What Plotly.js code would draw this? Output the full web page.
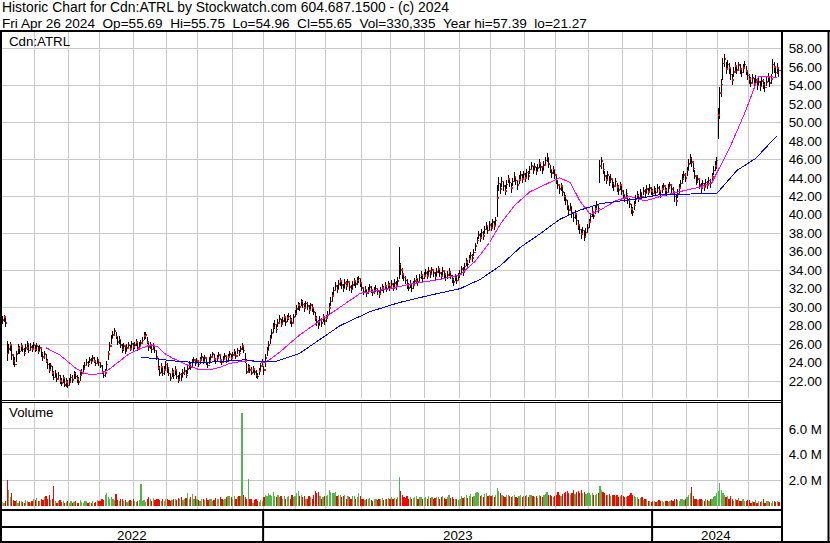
<!DOCTYPE html>
<html>
<head>
<meta charset="utf-8">
<script src="https://cdn.plot.ly/plotly-3.0.1.min.js"></script>
<style>
html,body{margin:0;padding:0;background:#fff}
#chart{width:830px;height:543px}
#chart path.js-line{shape-rendering:crispEdges !important}
#chart .point{shape-rendering:crispEdges !important}
#chart .bars path{shape-rendering:crispEdges !important}
</style>
</head>
<body>
<div id="chart"></div>
<script>
// ---- DATA (daily bars, May 2 2022 .. Apr 26 2024, trading-day index) ----
const monthLengths = [21,22,20,22,21,20,22,20, 21,19,23,19,22,22,20,22,20,21,22,19, 22,20,20,20];
const years = ['2022','2023','2024'];
const monthsPerYear = [8,12,4];

const close = [
28.6,28.9,28.3,25.0,25.5,25.9,24.8,24.2,23.8,24.9,25.6,25.2,25.8,25.4,25.0,25.6,26.0,25.3,25.7,25.5,25.9,
25.4,25.8,25.2,25.6,25.0,24.6,24.9,24.2,23.8,23.2,23.6,22.9,22.4,22.8,22.2,22.6,22.0,21.8,22.3,21.6,21.9,21.5,
21.9,22.4,22.1,22.8,22.5,22.2,21.9,22.6,22.9,23.3,23.7,24.0,23.8,24.3,24.1,24.5,24.2,23.9,24.3,24.0,
23.6,23.0,22.6,22.9,23.8,24.9,25.8,26.6,27.0,27.4,26.8,26.2,26.5,25.9,25.4,25.8,25.2,25.6,25.9,25.5,26.0,25.7,
25.9,26.2,25.6,25.8,26.1,26.4,26.9,27.0,26.2,25.7,25.9,25.4,25.8,25.3,24.6,23.4,22.9,23.5,22.8,23.2,23.8,
23.4,22.8,22.3,23.0,22.6,23.2,22.5,22.1,22.7,22.4,22.9,23.1,22.6,23.3,23.8,23.5,24.0,24.3,23.9,24.2,
23.8,24.3,24.6,24.1,24.5,24.0,23.7,24.2,24.6,24.9,24.4,24.1,24.5,24.8,24.3,24.0,24.4,24.7,24.2,24.6,24.9,24.5,
24.8,25.2,24.7,25.3,25.0,25.5,25.8,25.3,24.2,23.0,23.5,23.2,22.9,23.3,23.0,22.6,22.5,23.1,23.6,24.0,
23.2,24.5,25.3,25.9,26.6,27.2,27.8,28.1,27.6,28.3,28.7,28.2,28.5,28.9,28.4,28.8,29.0,28.6,28.3,28.9,29.3,
29.8,30.2,30.0,30.6,30.3,29.9,30.4,30.1,29.7,30.2,29.9,29.5,28.8,28.4,28.0,28.6,28.3,28.9,28.5,
28.8,29.2,29.9,30.6,31.2,31.8,32.3,31.9,32.5,32.8,32.4,32.0,32.6,32.3,32.7,32.2,31.9,32.4,32.8,32.5,32.9,33.1,32.6,
32.1,31.7,31.9,31.5,31.8,32.2,31.9,31.6,31.8,32.0,31.7,31.4,31.8,32.1,31.9,32.3,32.0,32.4,32.2,
32.5,32.1,32.6,32.3,32.8,34.6,34.0,33.6,33.2,32.9,32.4,32.1,32.5,32.0,32.4,32.8,33.1,32.7,33.2,33.5,33.1,33.4,
33.7,33.4,33.9,33.6,34.0,33.7,33.3,33.8,34.1,33.7,33.4,33.9,33.6,33.2,33.5,33.8,33.4,33.0,32.7,33.2,32.9,33.3,
33.6,34.1,33.8,34.4,34.9,34.6,35.2,35.6,35.3,35.9,36.6,37.2,37.8,37.5,38.1,37.7,38.4,38.8,38.3,38.9,
38.6,39.2,38.8,39.4,41.8,43.4,42.8,43.6,43.1,42.6,43.3,43.9,43.5,42.9,43.6,44.1,43.7,43.2,43.8,44.3,43.9,44.4,
44.0,44.6,44.2,44.9,45.3,44.8,45.2,44.7,45.1,45.6,45.2,44.8,45.4,45.9,46.2,45.5,44.9,44.5,44.9,44.3,
43.7,43.2,42.8,43.1,42.5,42.0,41.6,41.0,40.5,40.9,40.2,39.7,40.1,39.4,38.9,38.4,37.9,38.3,37.6,38.1,38.6,
39.2,39.8,40.3,39.9,40.6,41.0,40.7,45.3,45.8,44.9,44.2,43.8,44.3,43.6,43.9,43.4,43.1,43.6,43.0,42.7,43.2,42.6,
42.2,41.8,42.3,41.6,41.2,40.6,40.3,41.0,41.7,42.1,41.8,42.4,42.0,42.6,42.3,42.8,42.5,42.9,42.6,
42.3,42.7,42.4,42.9,42.6,42.2,42.8,43.1,42.7,42.4,42.9,43.2,42.8,42.5,42.0,41.5,42.3,42.9,43.4,43.9,44.3,44.0,
44.8,45.5,46.1,45.7,45.0,44.2,43.6,43.9,43.2,42.9,43.4,43.0,43.5,43.2,43.7,43.4,44.1,44.8,45.3,45.9,
50.8,53.2,54.1,56.4,56.9,55.8,56.3,55.9,55.2,54.6,55.5,56.1,55.7,56.2,55.8,55.4,55.9,56.3,55.6,55.1,
54.7,54.3,54.8,54.2,54.6,54.0,54.4,53.9,54.5,54.1,53.8,54.4,54.9,54.3,54.7,56.3,56.0,55.4,55.9,55.65
];
const high = [
29.0,29.2,28.9,26.3,26.0,26.2,25.9,24.9,24.6,25.3,26.0,25.8,26.1,25.9,25.6,26.0,26.3,26.0,26.1,25.9,26.2,
25.9,26.1,25.8,25.9,25.6,25.1,25.3,24.9,24.4,23.9,24.0,23.6,23.1,23.2,22.9,23.0,22.7,22.3,22.6,22.4,22.3,22.1,
22.3,22.8,22.7,23.1,23.0,22.7,22.4,23.0,23.3,23.7,24.1,24.4,24.2,24.6,24.5,24.8,24.6,24.3,24.6,24.4,
24.1,23.7,23.1,23.3,24.2,25.3,26.2,27.0,27.4,27.7,27.3,26.8,26.9,26.5,26.0,26.1,25.8,26.0,26.2,25.9,26.3,26.1,
26.2,26.5,26.1,26.2,26.4,26.8,27.3,27.3,26.8,26.3,26.2,25.9,26.1,25.8,25.3,24.5,23.6,23.9,23.5,23.6,24.2,
23.9,23.5,22.9,23.4,23.2,23.6,23.3,22.7,23.0,22.9,23.3,23.5,23.2,23.7,24.2,24.0,24.4,24.6,24.4,24.5,
24.3,24.6,25.0,24.6,24.8,24.5,24.1,24.6,24.9,25.1,24.9,24.5,24.8,25.1,24.8,24.4,24.7,25.0,24.6,24.9,25.2,24.9,
25.1,25.5,25.2,25.6,25.4,25.8,26.1,25.9,25.0,24.0,23.8,23.7,23.5,23.6,23.4,23.2,22.9,23.4,23.9,24.4,
23.6,24.9,25.7,26.3,27.0,27.6,28.3,28.6,28.2,28.7,29.1,28.7,28.9,29.3,28.9,29.2,29.4,29.1,28.8,29.3,29.7,
30.2,30.6,30.5,30.9,30.8,30.4,30.7,30.6,30.2,30.5,30.3,30.0,29.5,29.0,28.6,29.0,28.8,29.3,29.0,
29.2,29.6,30.4,31.1,31.6,32.2,32.7,32.4,32.9,33.2,32.9,32.5,33.0,32.8,33.1,32.7,32.4,32.8,33.2,32.9,33.3,33.4,33.1,
32.6,32.1,32.3,31.9,32.2,32.5,32.3,32.0,32.2,32.4,32.1,31.8,32.2,32.5,32.3,32.7,32.4,32.8,32.6,
32.9,32.6,33.0,32.8,33.3,36.5,34.8,34.2,33.7,33.4,33.0,32.6,32.9,32.5,32.8,33.2,33.5,33.2,33.6,33.9,33.6,33.8,
34.1,33.9,34.3,34.0,34.4,34.1,33.8,34.2,34.5,34.2,33.8,34.3,34.0,33.7,33.9,34.2,33.9,33.5,33.2,33.6,33.4,33.7,
34.0,34.5,34.3,34.8,35.3,35.1,35.6,36.0,35.8,36.3,37.0,37.6,38.2,38.0,38.5,38.2,38.8,39.2,38.8,39.3,
39.1,39.6,39.3,39.8,43.2,44.1,43.5,44.1,43.7,43.2,43.8,44.3,44.0,43.5,44.0,44.6,44.2,43.8,44.3,44.7,44.4,44.8,
44.5,45.0,44.7,45.3,45.7,45.3,45.6,45.2,45.5,46.0,45.7,45.3,45.8,46.3,46.7,46.1,45.4,45.0,45.3,44.9,
44.2,43.8,43.3,43.5,43.0,42.5,42.1,41.6,41.0,41.3,40.8,40.3,40.5,40.0,39.4,38.9,38.5,38.7,38.2,38.6,39.0,
39.6,40.2,40.8,40.4,41.0,41.5,41.2,45.9,46.3,45.6,44.8,44.3,44.7,44.2,44.4,43.9,43.6,44.0,43.5,43.2,43.6,43.1,
42.7,42.3,42.8,42.1,41.8,41.2,40.9,41.5,42.2,42.6,42.3,42.8,42.5,43.0,42.8,43.2,42.9,43.3,43.0,
42.8,43.1,42.9,43.3,43.1,42.7,43.2,43.5,43.2,42.9,43.3,43.6,43.3,43.0,42.6,42.2,42.8,43.3,43.8,44.4,44.7,44.5,
45.2,46.0,46.6,46.3,45.6,44.9,44.2,44.3,43.8,43.4,43.8,43.5,43.9,43.7,44.1,43.9,44.5,45.3,45.8,46.3,
51.6,53.8,54.7,57.0,57.39,56.6,56.8,56.4,56.0,55.3,56.0,56.5,56.2,56.6,56.3,55.9,56.3,56.7,56.1,55.6,
55.2,54.9,55.3,54.8,55.1,54.6,54.9,54.5,55.0,54.7,54.4,54.9,55.4,54.9,55.2,56.9,56.6,56.0,56.4,55.75
];
const low = [
28.2,28.4,27.9,24.2,24.9,25.2,24.3,23.7,23.5,24.1,24.9,24.9,25.2,25.1,24.7,25.1,25.4,25.0,25.3,25.1,25.4,
25.1,25.3,24.9,25.1,24.6,24.2,24.4,23.9,23.3,22.9,23.1,22.5,22.1,22.3,21.9,22.2,21.7,21.5,21.8,21.3,21.4,21.27,
21.5,21.9,21.8,22.2,22.2,21.8,21.6,22.0,22.5,22.9,23.3,23.6,23.5,23.9,23.8,24.1,23.9,23.6,23.9,23.6,
23.4,22.8,22.3,22.4,23.2,24.3,25.2,26.0,26.5,26.9,26.5,25.9,26.0,25.6,25.0,25.3,24.9,25.2,25.5,25.2,25.6,25.3,
25.5,25.8,25.3,25.4,25.7,26.1,26.4,26.5,26.0,25.3,25.5,25.0,25.4,25.0,24.3,23.2,22.5,22.9,22.5,22.6,23.2,
22.9,22.5,22.0,22.4,22.2,22.7,22.2,21.8,22.2,22.0,22.4,22.7,22.3,22.8,23.3,23.2,23.6,23.9,23.6,23.8,
23.5,23.8,24.2,23.8,24.1,23.7,23.4,23.8,24.2,24.5,24.1,23.8,24.2,24.4,24.0,23.7,24.0,24.3,23.9,24.2,24.5,24.2,
24.5,24.8,24.4,24.9,24.7,25.1,25.4,25.0,24.0,22.8,22.9,22.9,22.6,22.9,22.6,22.3,22.2,22.6,23.1,23.5,
22.7,23.5,24.7,25.3,26.0,26.7,27.2,27.6,27.2,27.8,28.2,27.8,28.1,28.4,28.0,28.4,28.6,28.2,27.9,28.4,28.9,
29.2,29.7,29.6,30.1,29.9,29.5,29.9,29.7,29.3,29.7,29.5,29.1,28.5,28.0,27.6,28.1,27.9,28.4,28.1,
28.4,28.8,29.3,30.1,30.7,31.3,31.9,31.5,32.0,32.3,32.0,31.6,32.1,31.9,32.2,31.8,31.5,31.9,32.3,32.1,32.4,32.6,32.2,
31.7,31.3,31.5,31.1,31.4,31.8,31.5,31.2,31.4,31.6,31.3,31.0,31.4,31.7,31.5,31.9,31.6,32.0,31.8,
32.1,31.7,32.2,31.9,32.4,33.0,33.5,33.1,32.8,32.5,32.0,31.7,32.1,31.6,32.0,32.4,32.6,32.3,32.7,33.0,32.7,33.0,
33.3,33.0,33.5,33.2,33.6,33.3,32.9,33.4,33.7,33.3,33.0,33.5,33.2,32.8,33.1,33.4,33.0,32.6,32.3,32.8,32.5,32.9,
33.2,33.7,33.4,34.0,34.5,34.2,34.8,35.2,34.9,35.5,36.1,36.8,37.4,37.1,37.6,37.3,37.9,38.4,37.9,38.4,
38.2,38.7,38.4,38.9,39.8,42.6,42.3,43.0,42.6,42.1,42.8,43.4,43.0,42.4,43.1,43.6,43.2,42.7,43.3,43.8,43.4,43.9,
43.6,44.1,43.8,44.4,44.9,44.4,44.8,44.3,44.7,45.1,44.8,44.4,44.9,45.4,45.7,45.1,44.5,44.0,44.4,43.9,
43.3,42.8,42.3,42.6,42.0,41.5,41.1,40.5,40.0,40.4,39.7,39.2,39.6,38.9,38.4,37.9,37.4,37.8,37.2,37.6,38.1,
38.6,39.3,39.8,39.5,40.1,40.5,40.2,43.5,45.0,44.4,43.7,43.3,43.8,43.1,43.4,42.9,42.6,43.1,42.5,42.2,42.7,42.1,
41.7,41.4,41.8,41.2,40.7,40.1,39.9,40.5,41.2,41.7,41.4,41.9,41.6,42.1,41.9,42.4,42.1,42.5,42.2,
41.9,42.3,42.0,42.5,42.2,41.8,42.4,42.7,42.3,42.0,42.5,42.8,42.4,42.1,41.4,41.0,41.8,42.4,43.0,43.5,43.8,43.6,
44.2,44.9,45.5,45.2,44.6,43.9,43.2,43.4,42.8,42.4,42.9,42.6,43.0,42.8,43.2,42.9,43.6,44.3,44.8,45.0,
48.2,50.4,52.8,54.6,56.0,55.3,55.7,55.3,54.6,54.1,54.9,55.5,55.2,55.6,55.3,54.9,55.4,55.8,55.1,54.6,
54.2,53.8,54.3,53.7,54.1,53.5,53.9,53.4,54.0,53.6,53.3,53.9,54.4,53.8,54.2,55.2,55.4,54.9,55.2,54.96
];
// volume in millions of shares
const volume = [
0.35,0.3,0.4,2.05,1.3,0.7,1.0,0.5,0.45,0.5,0.3,0.4,0.45,0.35,0.3,0.5,0.4,0.35,0.3,0.45,0.6,
0.5,0.65,0.4,0.45,0.55,0.5,0.7,0.8,0.6,0.9,0.5,0.55,1.6,0.45,0.3,0.4,0.5,0.35,0.45,0.3,0.35,0.4,
0.3,0.45,0.3,0.35,0.4,0.25,0.3,0.5,0.35,0.3,0.4,0.45,0.3,0.35,0.25,0.4,0.3,0.35,0.5,0.4,
0.45,0.6,0.5,0.9,1.05,0.7,0.55,0.75,0.6,0.5,0.95,0.5,0.4,0.6,0.55,0.45,0.5,0.35,0.4,0.5,0.45,0.55,
0.4,0.35,0.45,0.5,1.7,0.4,0.5,0.35,0.6,0.7,0.55,0.45,0.65,0.5,0.6,0.55,0.5,0.45,0.6,0.4,0.55,
0.6,0.5,0.45,0.5,0.55,0.6,0.5,0.65,0.6,0.7,0.5,0.55,0.65,1.0,0.6,0.7,0.95,0.55,0.8,0.6,
0.5,0.45,0.55,0.6,0.5,0.65,0.5,0.55,0.6,0.45,0.5,0.65,0.55,0.6,0.7,0.55,0.5,0.6,0.75,0.8,0.8,0.75,
0.6,0.8,0.55,0.7,0.8,0.8,7.25,0.9,0.75,0.6,2.1,0.6,0.55,0.3,0.5,0.6,0.4,0.35,0.5,0.45,
0.7,0.9,0.8,1.0,0.9,0.8,1.1,0.8,0.7,0.9,0.7,0.8,0.6,0.8,0.6,0.7,0.8,0.6,0.9,0.7,0.8,
1.0,1.2,0.8,0.9,0.7,0.8,0.6,0.6,0.8,0.7,0.6,0.9,1.2,1.0,1.1,0.8,0.6,0.7,0.8,
0.8,0.9,1.3,1.1,1.0,1.0,1.1,0.8,0.9,0.9,0.7,0.8,0.9,0.6,0.8,0.7,0.6,0.8,0.8,0.6,0.7,1.0,0.8,
0.6,0.55,0.5,0.6,0.55,0.65,0.5,0.45,0.55,0.6,0.5,0.55,0.6,0.65,0.5,0.6,0.55,0.65,0.6,
0.7,0.6,0.65,0.6,0.7,2.3,1.2,0.9,0.7,0.65,0.8,0.6,0.7,0.6,0.65,0.7,0.8,0.6,0.7,0.75,0.6,0.65,
0.7,0.6,0.8,0.65,0.7,0.6,0.65,0.7,0.75,0.6,0.7,0.8,0.65,0.6,0.7,0.9,0.65,0.7,0.6,0.55,0.6,0.5,
0.6,0.8,0.65,0.7,0.9,0.65,0.8,0.95,0.7,0.8,1.0,1.1,1.0,0.8,0.9,0.7,0.95,1.0,0.8,0.9,
0.8,0.9,0.7,0.85,1.4,1.2,1.0,0.9,0.8,0.7,0.85,0.9,0.8,0.7,0.8,0.9,0.7,0.65,0.8,0.85,0.7,0.8,
0.8,0.9,0.7,0.85,0.9,0.8,0.7,0.8,0.65,0.85,0.8,0.7,0.9,0.95,1.1,0.85,0.9,0.8,0.7,0.8,
0.9,1.1,0.85,0.8,0.95,1.0,1.1,1.2,1.05,0.9,1.0,1.3,0.95,1.1,1.2,1.05,1.3,1.0,1.1,0.95,1.0,
1.0,0.9,1.05,0.85,0.9,0.95,1.0,1.6,1.3,1.1,1.0,0.9,0.85,0.95,0.8,0.9,0.85,0.8,0.9,0.7,0.8,0.85,
0.8,0.7,0.75,0.8,0.9,1.0,0.85,0.8,0.7,0.75,0.6,0.65,0.7,0.5,0.55,0.6,0.45,0.4,0.35,
0.4,0.45,0.35,0.4,0.5,0.45,0.4,0.35,0.4,0.45,0.35,0.4,0.5,0.45,0.6,0.55,0.5,0.45,0.55,0.6,0.5,0.55,
0.7,0.9,1.0,1.5,0.8,0.6,0.55,0.5,0.55,0.6,0.5,0.45,0.55,0.5,0.45,0.55,0.6,0.7,0.8,1.0,
1.2,1.8,1.3,1.0,0.9,0.7,0.8,0.6,0.8,0.6,0.45,0.55,0.5,0.65,0.4,0.45,0.55,0.45,0.4,0.5,
0.5,0.3,0.4,0.35,0.5,0.3,0.45,0.35,0.4,0.55,0.3,0.45,0.4,0.35,0.3,0.45,0.4,0.35,0.4,0.33
];
// moving averages (trading-day index, price)
const maFastIdx = [28,37,47,53,58,63,68,74,81,87,95,100,104,109,115,122,127,133,140,146,153,159,164,169,174,178,191,204,217,230,249,262,281,294,304,313,320,329,339,352,358,365,371,378,384,394,403,413,423,435,448,456,461,468,477,486,498];
const maFastVal = [25.6,24.8,23.4,22.8,22.7,22.8,23.2,24.0,24.9,25.4,25.9,25.7,25.0,24.5,24.0,23.5,23.2,23.2,23.5,23.9,24.1,24.2,24.1,24.0,24.6,25.1,27.0,28.5,30.0,31.5,32.0,32.5,33.0,33.5,35.0,37.0,39.0,41.0,42.5,43.5,44.0,43.5,41.5,40.0,40.5,41.5,42.0,41.5,42.0,42.5,43.0,43.5,45.2,47.5,51.0,55.0,54.9];
const maSlowIdx = [89,95,104,114,127,140,156,164,175,191,204,217,236,255,275,294,307,320,333,346,358,371,384,397,410,423,459,472,484,498];
const maSlowVal = [24.6,24.5,24.3,24.1,24.0,24.1,24.3,24.1,24.1,25.0,26.5,28.0,29.5,30.5,31.3,32.0,33.0,34.5,36.5,38.0,39.5,40.5,41.2,41.5,41.8,42.2,42.3,44.8,46.1,48.6];
const priceLabels = [22,24,26,28,30,32,34,36,38,40,42,44,46,48,50,52,54,56,58];
const priceGrid = [22,26,30,34,38,42,46,50,54,58];
const volTicks = [2,4,6];

// ---- BUILD ----
const N = close.length;
const idx = close.map((_, i) => i);
const hlX = [], hlY = [];
for (let i = 0; i < N; i++) { hlX.push(i, i, null); hlY.push(low[i], high[i], null); }
const GREEN = 'rgb(80,184,72)', RED = 'rgb(255,0,0)', GRAY = 'rgb(180,180,180)';
const volColors = close.map((c, i) => i === 0 ? GRAY : (c > close[i-1] ? GREEN : (c < close[i-1] ? RED : GRAY)));

const monthStart = []; let acc = 0;
monthLengths.forEach(l => { monthStart.push(acc); acc += l; });
const yearStart = []; let m = 0;
monthsPerYear.forEach(n => { yearStart.push(monthStart[m]); m += n; });
const yearEnd = yearStart.slice(1).concat([N]);
const monthBounds = monthStart.slice(1).map(s => s - 0.5);

const W = 830, H = 543;
const PX = v => v / W, PY = v => 1 - v / H;
const FONT = 'Liberation Sans, Arial, sans-serif';
const TXT = '#000';

const traces = [
  { type: 'scatter', x: [0], y: [40], xaxis: 'x', yaxis: 'y3', mode: 'markers',
    marker: { opacity: 0 }, hoverinfo: 'skip' },
  { type: 'scatter', mode: 'lines', x: hlX, y: hlY, xaxis: 'x', yaxis: 'y',
    line: { color: '#000', width: 1 }, hoverinfo: 'skip', connectgaps: false },
  { type: 'scatter', mode: 'markers', x: idx.map(i => i + 0.6), y: close, xaxis: 'x', yaxis: 'y',
    marker: { symbol: 'square', size: 1.6, color: RED, line: { width: 0 } }, hoverinfo: 'skip' },
  { type: 'scatter', mode: 'lines', x: maFastIdx, y: maFastVal, xaxis: 'x', yaxis: 'y',
    line: { color: '#ff00ff', width: 1 }, hoverinfo: 'skip' },
  { type: 'scatter', mode: 'lines', x: maSlowIdx, y: maSlowVal, xaxis: 'x', yaxis: 'y',
    line: { color: '#0000ff', width: 1 }, hoverinfo: 'skip' },
  { type: 'bar', x: idx, y: volume, xaxis: 'x', yaxis: 'y2', width: 0.8,
    marker: { color: volColors, line: { width: 0 } }, hoverinfo: 'skip' }
];

const lineShape = (x0, y0, x1, y1, w) => ({ type: 'line', xref: 'paper', yref: 'paper',
  x0: PX(x0), y0: PY(y0), x1: PX(x1), y1: PY(y1), line: { color: '#000', width: w } });

const shapes = [
  lineShape(0, 31, W, 31, 2),
  lineShape(1, 30, 1, H, 2),
  lineShape(828.5, 30, 828.5, H, 2),
  lineShape(782, 30, 782, H, 2),
  lineShape(0, 400.5, 782, 400.5, 1),
  lineShape(0, 402.5, 782, 402.5, 1),
  lineShape(0, 510, 782, 510, 2),
  lineShape(0, 527, 782, 527, 2),
  lineShape(0, 542, W, 542, 2)
];
yearStart.slice(1).forEach(s => shapes.push({ type: 'line', xref: 'x', yref: 'paper',
  x0: s - 0.5, x1: s - 0.5, y0: PY(543), y1: PY(510), line: { color: '#000', width: 2 } }));

const ann = (text, x, y, size, xanchor) => ({ text, x: PX(x), y: PY(y), xref: 'paper', yref: 'paper',
  xanchor: xanchor || 'left', yanchor: 'middle', showarrow: false, font: { family: FONT, size: size || 13.3, color: TXT } });
const S = '\u00a0\u00a0';
const annotations = [
  ann('Historic Chart for Cdn:ATRL by Stockwatch.com 604.687.1500 - (c) 2024', 0, 7, 13.9),
  ann('Fri Apr 26 2024' + S + 'Op=55.69' + S + 'Hi=55.75' + S + 'Lo=54.96' + S + 'Cl=55.65' + S + 'Vol=330,335' + S + 'Year hi=57.39' + S + 'lo=21.27', 0, 23, 13.6),
  ann('Cdn:ATRL', 7, 41),
  ann('Volume', 7, 413)
];
years.forEach((y, k) => annotations.push({ text: y, xref: 'x', yref: 'paper',
  x: (yearStart[k] - 0.5 + yearEnd[k] - 0.5) / 2, y: PY(535), xanchor: 'center', yanchor: 'middle',
  showarrow: false, font: { family: FONT, size: 13.3, color: TXT } }));

const layout = {
  width: W, height: H, margin: { l: 0, r: 0, t: 0, b: 0 }, showlegend: false,
  paper_bgcolor: '#fff', plot_bgcolor: '#fff', bargap: 0,
  font: { family: FONT, size: 13.3, color: TXT },
  xaxis: { domain: [PX(2), PX(781)], range: [-0.32, 500.35], anchor: 'y2',
    tickmode: 'array', tickvals: monthBounds, showticklabels: false, ticks: '',
    showgrid: true, gridcolor: '#c8c8c8', gridwidth: 1, zeroline: false, showline: false, fixedrange: true },
  yaxis: { domain: [PY(398), PY(32)], range: [20.16, 59.8], side: 'right', anchor: 'x',
    tickmode: 'array', tickvals: priceLabels, ticktext: priceLabels.map(v => v.toFixed(2)),
    ticks: 'outside', ticklen: 4, tickcolor: 'rgba(0,0,0,0)', showgrid: false, zeroline: false, showline: false,
    tickfont: { family: FONT, size: 13.3, color: TXT } },
  yaxis3: { overlaying: 'y', range: [20.16, 59.8], side: 'right', anchor: 'x',
    tickmode: 'array', tickvals: priceGrid, showticklabels: false, ticks: '',
    showgrid: true, gridcolor: '#c8c8c8', gridwidth: 1, zeroline: false, showline: false },
  yaxis2: { domain: [PY(509), PY(403)], range: [-0.2, 8.0], side: 'right', anchor: 'x',
    tickmode: 'array', tickvals: volTicks, ticktext: volTicks.map(v => v.toFixed(1) + ' M'),
    ticks: 'outside', ticklen: 4, tickcolor: 'rgba(0,0,0,0)',
    showgrid: true, gridcolor: '#c8c8c8', gridwidth: 1, zeroline: false, showline: false,
    tickfont: { family: FONT, size: 13.3, color: TXT } },
  shapes, annotations
};

Plotly.newPlot('chart', traces, layout, { staticPlot: true, displayModeBar: false });
</script>
</body>
</html>
